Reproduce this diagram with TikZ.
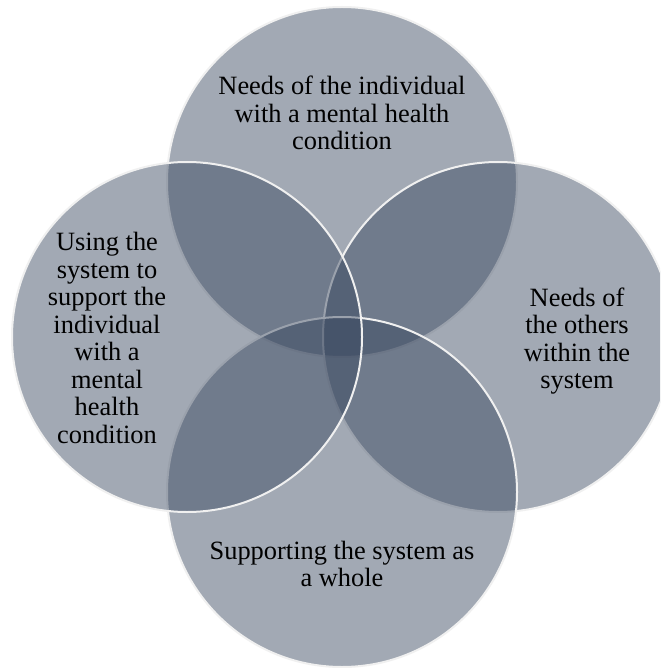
\documentclass[tikz,border=0pt]{standalone}
\usepackage{fontspec}
\setmainfont{Liberation Serif}
\definecolor{vennfill}{RGB}{54,69,93}
\definecolor{vennline}{RGB}{240,240,240}
\tikzset{
  venn/.style={circle, inner sep=0pt, minimum size=350pt, fill=vennfill, fill opacity=0.46, draw=vennline, draw opacity=1, line width=2pt},
  lbl/.style={align=center, text=black, font=\fontsize{26.4}{27.5}\selectfont, inner sep=0pt}
}
\begin{document}
\begin{tikzpicture}[x=1pt, y=-1pt]
\fill[white] (0,0) rectangle (660,668);
\clip (0,0) rectangle (660,668);
\node[venn] (ctop) at (342,182) {};
\node[venn] (cright) at (498,337) {};
\node[venn] (cbottom) at (342,492) {};
\node[venn] (cleft) at (187,337) {};
\node[lbl] (ttop) at (342,113) {Needs of the individual\\with a mental health\\condition};
\node[lbl] (tleft) at (107,338) {Using the\\system to\\support the\\individual\\with a\\mental\\health\\condition};
\node[lbl] (tright) at (577,341) {Needs of\\the others\\within the\\system};
\node[lbl] (tbottom) at (342,564) {Supporting the system as\\a whole};
\end{tikzpicture}
\end{document}
